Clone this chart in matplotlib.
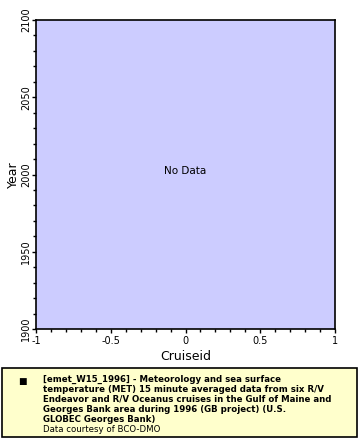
import matplotlib
matplotlib.use("Agg")
import matplotlib.pyplot as plt
from matplotlib.ticker import MultipleLocator
from matplotlib.patches import Rectangle

# axis ranges and ticks (no data points at all)
x_range = [-1, 1]
y_range = [1900, 2100]
x_ticks = [-1, -0.5, 0, 0.5, 1]
x_tick_labels = ["-1", "-0.5", "0", "0.5", "1"]
y_ticks = [1900, 1950, 2000, 2050, 2100]
y_tick_labels = ["1900", "1950", "2000", "2050", "2100"]
cruiseid = []
year = []

legend_title = ("[emet_W15_1996] - Meteorology and sea surface\n"
                "temperature (MET) 15 minute averaged data from six R/V\n"
                "Endeavor and R/V Oceanus cruises in the Gulf of Maine and\n"
                "Georges Bank area during 1996 (GB project) (U.S.\n"
                "GLOBEC Georges Bank)")
courtesy = "Data courtesy of BCO-DMO"

W, H = 360, 440
fig = plt.figure(figsize=(W / 100, H / 100), dpi=100)
ax = fig.add_axes([36 / W, 1 - 329 / H, (335 - 36) / W, (329 - 20) / H])
ax.set_facecolor("#ccccff")
ax.plot(cruiseid, year, "s", color="black")
ax.set_xlim(*x_range)
ax.set_ylim(*y_range)
ax.set_xticks(x_ticks)
ax.set_xticklabels(x_tick_labels)
ax.set_yticks(y_ticks)
ax.set_yticklabels(y_tick_labels, rotation=90, va="center")
ax.xaxis.set_minor_locator(MultipleLocator(0.1))
ax.yaxis.set_minor_locator(MultipleLocator(10))
ax.tick_params(which="major", length=3.2, width=1, labelsize=7, pad=2)
ax.tick_params(axis="y", which="major", pad=0.5)
ax.tick_params(which="minor", length=2.2, width=1)
for s in ax.spines.values():
    s.set_linewidth(1.2)
ax.set_xlabel("Cruiseid", fontsize=9, labelpad=3)
ax.set_ylabel("Year", fontsize=9, labelpad=1)
ax.text(0.5, 0.51, "No Data", transform=ax.transAxes, ha="center", va="center",
        fontsize=7.5)

# legend box below the plot
fig.patches.append(Rectangle((2 / W, 1 - 437 / H), 355 / W, 69 / H,
                             transform=fig.transFigure, facecolor="#ffffcc",
                             edgecolor="black", linewidth=1.2))
fig.text(18 / W, 1 - 381 / H, "\u25a0", fontsize=6.5, va="center", ha="left")
fig.text(43 / W, 1 - 375 / H, legend_title, fontsize=6.2, fontweight="bold",
         va="top", ha="left", linespacing=1.12)
fig.text(43 / W, 1 - 425 / H, courtesy, fontsize=6.2, va="top", ha="left")

fig.savefig("out.png", dpi=100)
